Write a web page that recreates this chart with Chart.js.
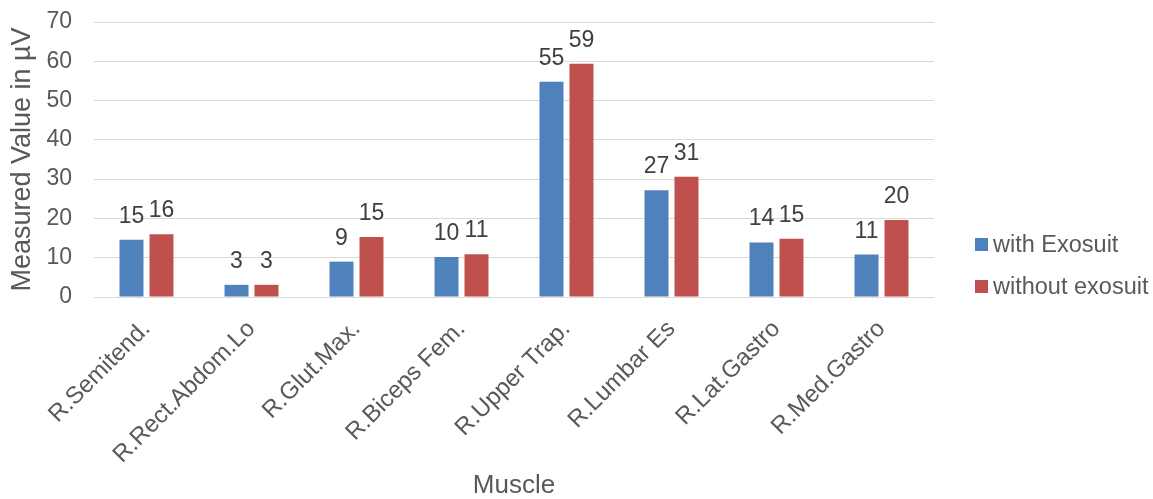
<!DOCTYPE html>
<html>
<head>
<meta charset="utf-8">
<script src="https://cdn.jsdelivr.net/npm/chart.js@4.4.0/dist/chart.umd.min.js"></script>
<style>
  html, body { margin: 0; padding: 0; background: #fff; }
  #wrap { width: 1153px; height: 499px; position: relative; }
</style>
</head>
<body>
<div id="wrap"><canvas id="chart"></canvas></div>
<script>
'use strict';

// muscles on the x axis
const muscles = [
  'R.Semitend.', 'R.Rect.Abdom.Lo', 'R.Glut.Max.', 'R.Biceps Fem.',
  'R.Upper Trap.', 'R.Lumbar Es', 'R.Lat.Gastro', 'R.Med.Gastro'
];

// mean EMG in microvolts
const withExosuit = [14.6, 3.1, 9.0, 10.2, 54.8, 27.2, 13.9, 10.8];
const withoutExosuit = [16.0, 3.1, 15.3, 10.9, 59.4, 30.6, 14.8, 19.6];

const yTicks = [0, 10, 20, 30, 40, 50, 60, 70];

const FONT = '"Liberation Sans", Arial, sans-serif';
const GREY = '#595959';

// writes the rounded value above every bar
const valueLabels = {
  id: 'valueLabels',
  afterDatasetsDraw(chart) {
    const ctx = chart.ctx;
    ctx.save();
    ctx.font = '23px ' + FONT;
    ctx.fillStyle = '#404040';
    ctx.textAlign = 'center';
    ctx.textBaseline = 'alphabetic';
    chart.data.datasets.forEach((ds, i) => {
      chart.getDatasetMeta(i).data.forEach((bar, j) => {
        ctx.fillText(Math.round(ds.data[j]).toString(), bar.x, bar.y - 17);
      });
    });
    ctx.restore();
  }
};

// legend to the right of the plot: small square + series name
const sideLegend = {
  id: 'sideLegend',
  afterDraw(chart) {
    const ctx = chart.ctx;
    const x = chart.chartArea.right + 41;
    let y = 252;
    ctx.save();
    ctx.font = '23.5px ' + FONT;
    ctx.textAlign = 'left';
    ctx.textBaseline = 'alphabetic';
    chart.data.datasets.forEach(ds => {
      ctx.fillStyle = ds.backgroundColor;
      ctx.fillRect(x, y - 14, 13, 13);
      ctx.fillStyle = GREY;
      ctx.fillText(ds.label, x + 18, y);
      y += 42;
    });
    ctx.restore();
  }
};

const chartData = {
  labels: muscles,
  datasets: [
    {
      label: 'with Exosuit',
      data: withExosuit,
      backgroundColor: '#4F81BD',
      categoryPercentage: 0.571,
      barPercentage: 0.8,
    },
    {
      label: 'without exosuit',
      data: withoutExosuit,
      backgroundColor: '#C0504D',
      categoryPercentage: 0.571,
      barPercentage: 0.8,
    },
  ],
};

const chartConfig = {
  type: 'bar',
  data: chartData,
  plugins: [valueLabels, sideLegend],
  options: {
    responsive: true,
    maintainAspectRatio: false,
    animation: false,
    layout: { padding: { top: 22, left: 0, right: 219, bottom: 0 } },
    plugins: {
      tooltip: { enabled: false },
      legend: { display: false },
    },
    scales: {
      x: {
        grid: { display: false },
        border: { display: false },
        ticks: {
          autoSkip: false,
          minRotation: 45,
          maxRotation: 45,
          padding: 10,
          color: GREY,
          font: { family: FONT, size: 24 },
        },
        title: {
          display: true,
          text: 'Muscle',
          color: GREY,
          font: { family: FONT, size: 26, lineHeight: 1 },
          padding: { top: 0, bottom: 0 },
        },
        afterFit(scale) { scale.height = 202; },
      },
      y: {
        min: 0,
        max: 70,
        afterBuildTicks(scale) { scale.ticks = yTicks.map(v => ({ value: v })); },
        grid: { color: '#d9d9d9', lineWidth: 1, drawTicks: false },
        border: { display: false },
        ticks: {
          padding: 22,
          color: GREY,
          font: { family: FONT, size: 23 },
        },
        title: {
          display: true,
          text: 'Measured Value in µV',
          color: GREY,
          font: { family: FONT, size: 27, lineHeight: 1.2 },
          padding: { top: 6, bottom: 0 },
        },
        afterFit(scale) {
          scale.width = 94;
          scale.paddingTop = 0;
          scale.paddingBottom = 0;
        },
      },
    },
  },
};

const myChart = new Chart(document.getElementById('chart'), chartConfig);
</script>
</body>
</html>
